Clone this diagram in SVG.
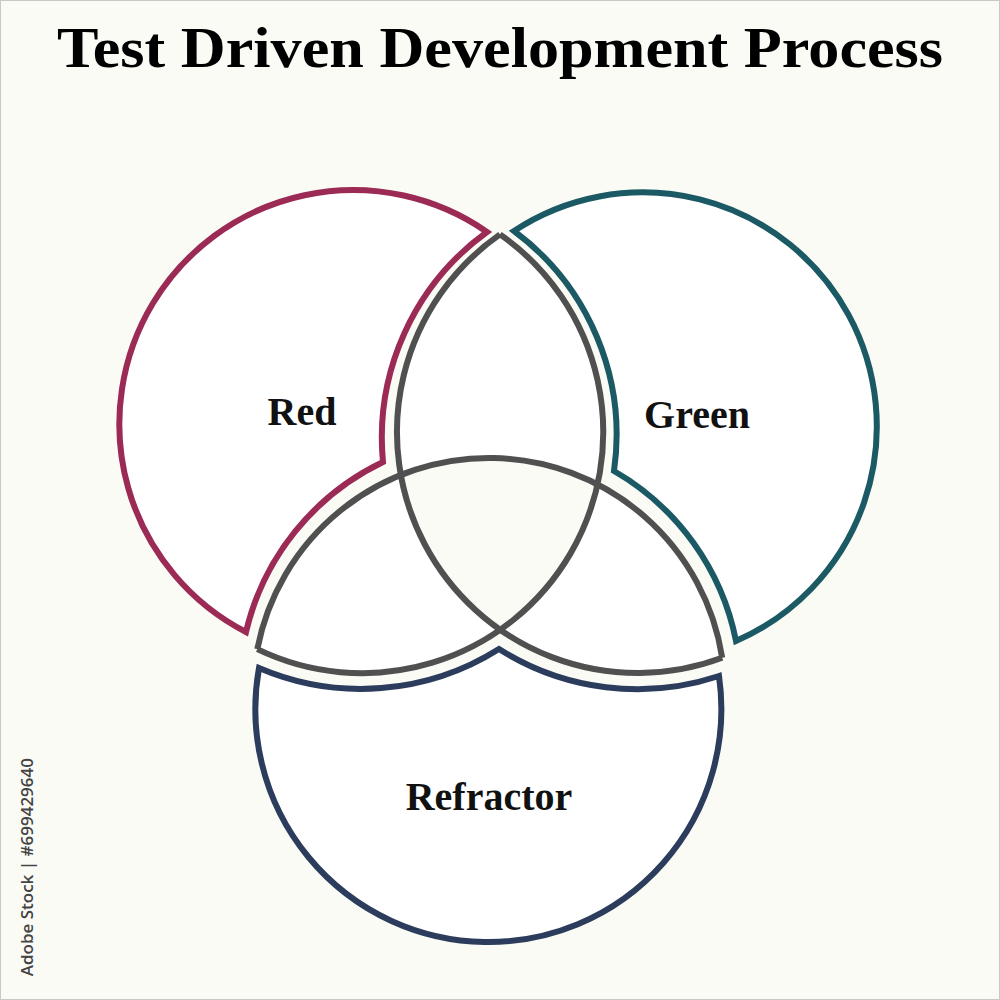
<svg xmlns="http://www.w3.org/2000/svg" width="1000" height="1000" viewBox="0 0 1000 1000">
  <style>
    .title { font-family: "Liberation Serif", "Times New Roman", serif; font-weight: bold; font-size: 57px; fill: #000; }
    .label { font-family: "Liberation Serif", "Times New Roman", serif; font-weight: bold; font-size: 40px; fill: #111; text-anchor: middle; }
    .side { font-family: "Open Sans", "DejaVu Sans", sans-serif; font-size: 17px; font-weight: 600; fill: #444; }
    .crescent { fill: #ffffff; stroke-width: 6; stroke-linejoin: miter; stroke-miterlimit: 20; }
    .gray { fill: none; stroke: #505050; stroke-width: 6; stroke-linecap: butt; }
  </style>
  <rect x="0.5" y="0.5" width="999" height="999" fill="#fbfbf6" stroke="#c8c8c8" stroke-width="1"/>
  <text class="title" x="500" y="67" text-anchor="middle" textLength="886" lengthAdjust="spacingAndGlyphs">Test Driven Development Process</text>

  <g id="overlap">
    <path d="M 500 234.4 A 241 241 0 0 0 400.9 475.1 A 236 236 0 0 0 257.3 649.1 A 241 241 0 0 0 500 629.6 A 241 241 0 0 0 722.2 657.8 A 236 236 0 0 0 597.3 484.3 A 241 241 0 0 0 500 234.4 Z" fill="#ffffff"/>
    <path d="M 400.9 475.1 A 236 236 0 0 1 597.3 484.3 A 241 241 0 0 1 500 629.6 A 241 241 0 0 1 400.9 475.1 Z" fill="#fbfbf6"/>
    <path class="gray" d="M 500 234.4 A 241 241 0 0 1 257.3 649.1"/>
    <path class="gray" d="M 500 234.4 A 241 241 0 0 0 722.2 657.8"/>
    <path class="gray" d="M 257.3 649.1 A 236 236 0 0 1 722.2 657.8"/>
  </g>

  <g id="red">
    <path class="crescent" stroke="#9b2b55" d="M 487 232 A 234 234 0 1 0 246 632 A 253 253 0 0 1 383 462 A 254 254 0 0 1 487 232 Z"/>
    <text class="label" x="302" y="425">Red</text>
  </g>

  <g id="green">
    <path class="crescent" stroke="#1b5a64" d="M 514 231 A 234 234 0 1 1 736 641 A 253 253 0 0 0 614 471 A 254 254 0 0 0 514 231 Z"/>
    <text class="label" x="697" y="428">Green</text>
  </g>

  <g id="refractor">
    <path class="crescent" stroke="#2b3c5c" d="M 259 668 A 233 233 0 1 0 719 676 A 259 259 0 0 1 499 649 A 259 259 0 0 1 259 668 Z"/>
    <text class="label" x="489" y="810">Refractor</text>
  </g>

  <text class="side" transform="translate(33 758) rotate(-90)" text-anchor="end">Adobe Stock | #699429640</text>
</svg>
